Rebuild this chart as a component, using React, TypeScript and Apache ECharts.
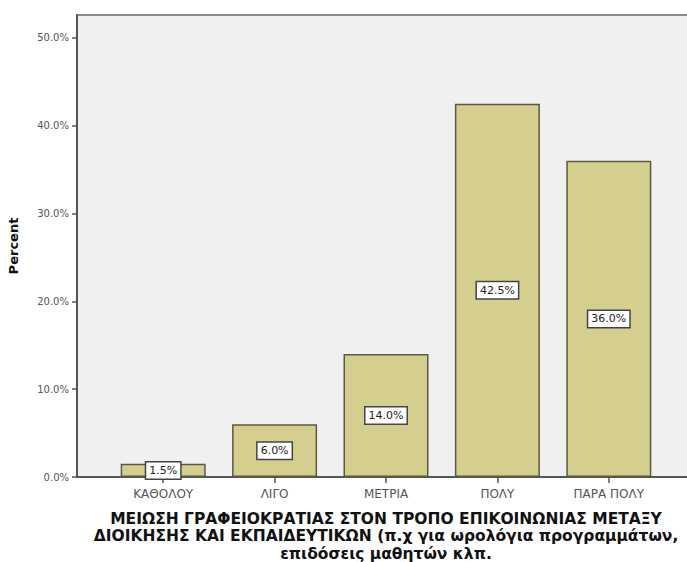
import React, { useEffect, useRef } from "react";
import * as echarts from "echarts";

const categories = ["ΚΑΘΟΛΟΥ", "ΛΙΓΟ", "ΜΕΤΡΙΑ", "ΠΟΛΥ", "ΠΑΡΑ ΠΟΛΥ"];
const percents = [1.5, 6.0, 14.0, 42.5, 36.0];
const yTicks = [0, 10, 20, 30, 40, 50];
const xTitle =
  "ΜΕΙΩΣΗ ΓΡΑΦΕΙΟΚΡΑΤΙΑΣ ΣΤΟΝ ΤΡΟΠΟ ΕΠΙΚΟΙΝΩΝΙΑΣ ΜΕΤΑΞΥ\nΔΙΟΙΚΗΣΗΣ ΚΑΙ ΕΚΠΑΙΔΕΥΤΙΚΩΝ (π.χ για ωρολόγια προγραμμάτων,\nεπιδόσεις μαθητών κλπ.";
const yName = "Percent";

const FONT = "DejaVu Sans, Liberation Sans, Arial, sans-serif";

export default function App() {
  const ref = useRef<HTMLDivElement>(null);
  useEffect(() => {
    if (!ref.current) return;
    const chart = echarts.init(ref.current, undefined, { renderer: "svg" });
    const yMax = 52.6;
    chart.setOption({
      animation: false,
      backgroundColor: "#ffffff",
      textStyle: { fontFamily: FONT },
      grid: [
        {
          left: 77,
          top: 15,
          width: 612,
          height: 462,
          show: true,
          backgroundColor: "#f0f0f0",
          borderColor: "#8a8a8a",
          borderWidth: 2,
          outerBoundsMode: "none",
          containLabel: false,
        },
        {
          left: 107.5,
          top: 15,
          width: 557,
          height: 462,
          outerBoundsMode: "none",
          containLabel: false,
        },
      ],
      xAxis: [
        {
          gridIndex: 0,
          type: "value",
          min: 0,
          max: 1,
          axisLine: { show: true, onZero: false, lineStyle: { color: "#555", width: 2 } },
          axisTick: { show: false },
          axisLabel: { show: false },
          splitLine: { show: false },
        },
        {
          gridIndex: 1,
          type: "category",
          data: categories,
          axisLine: { show: false },
          axisTick: { show: true, alignWithLabel: true, length: 6, lineStyle: { color: "#555", width: 1.5 } },
          axisLabel: { fontSize: 12, color: "#555", margin: 11, fontFamily: FONT },
          name: xTitle,
          nameLocation: "middle",
          nameGap: 33,
          nameTextStyle: {
            fontSize: 15.5,
            fontWeight: "bold",
            color: "#111",
            lineHeight: 17.5,
            align: "center",
            fontFamily: FONT,
          },
        },
      ],
      yAxis: [
        {
          gridIndex: 0,
          type: "value",
          min: 0,
          max: yMax,
          interval: 10,
          axisLine: { show: true, lineStyle: { color: "#555", width: 2 } },
          axisTick: { show: true, length: 5, customValues: yTicks, lineStyle: { color: "#555", width: 1.5 } },
          axisLabel: {
            customValues: yTicks,
            fontSize: 10,
            color: "#555",
            margin: 8,
            fontFamily: FONT,
            formatter: (v: number) => v.toFixed(1) + "%",
          },
          splitLine: { show: false },
          name: yName,
          nameLocation: "middle",
          nameGap: 57,
          nameTextStyle: { fontSize: 13, fontWeight: "bold", color: "#111", fontFamily: FONT },
        },
        {
          gridIndex: 1,
          type: "value",
          min: 0,
          max: yMax,
          show: false,
          splitLine: { show: false },
        },
      ],
      series: [
        {
          type: "bar",
          xAxisIndex: 1,
          yAxisIndex: 1,
          data: percents,
          barWidth: 85,
          itemStyle: { color: "#d4cf8e", borderColor: "#5a5a40", borderWidth: 1.5 },
          label: {
            show: true,
            position: "inside",
            formatter: (p: any) => Number(p.value).toFixed(1) + "%",
            fontSize: 11,
            color: "#222",
            backgroundColor: "#ffffff",
            borderColor: "#444",
            borderWidth: 1.5,
            padding: [3, 3, 2, 3],
            fontFamily: FONT,
          },
        },
      ],
    });
    return () => chart.dispose();
  }, []);
  return (
    <div
      ref={ref}
      style={{ position: "fixed", left: 0, top: 0, width: 687, height: 562 }}
    />
  );
}
